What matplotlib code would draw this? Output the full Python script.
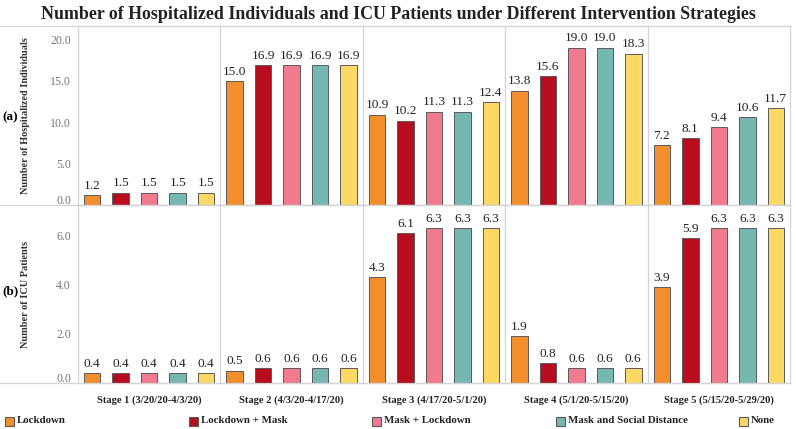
import matplotlib
matplotlib.use("Agg")
import matplotlib.pyplot as plt
from matplotlib.patches import Rectangle
from matplotlib.lines import Line2D
from matplotlib.transforms import ScaledTranslation

plt.rcParams['font.family'] = ['Liberation Serif', 'DejaVu Serif']

stages = ["Stage 1 (3/20/20-4/3/20)", "Stage 2 (4/3/20-4/17/20)", "Stage 3 (4/17/20-5/1/20)",
          "Stage 4 (5/1/20-5/15/20)", "Stage 5 (5/15/20-5/29/20)"]
strategies = ["Lockdown", "Lockdown + Mask", "Mask + Lockdown", "Mask and Social Distance", "None"]
colors = ["#F28E2B", "#B70D1F", "#F17A8E", "#76B7B2", "#FDD865"]

hosp = {
    "Lockdown":                 [1.2, 15.0, 10.9, 13.8, 7.2],
    "Lockdown + Mask":          [1.5, 16.9, 10.2, 15.6, 8.1],
    "Mask + Lockdown":          [1.5, 16.9, 11.3, 19.0, 9.4],
    "Mask and Social Distance": [1.5, 16.9, 11.3, 19.0, 10.6],
    "None":                     [1.5, 16.9, 12.4, 18.3, 11.7],
}
icu = {
    "Lockdown":                 [0.4, 0.5, 4.3, 1.9, 3.9],
    "Lockdown + Mask":          [0.4, 0.6, 6.1, 0.8, 5.9],
    "Mask + Lockdown":          [0.4, 0.6, 6.3, 0.6, 6.3],
    "Mask and Social Distance": [0.4, 0.6, 6.3, 0.6, 6.3],
    "None":                     [0.4, 0.6, 6.3, 0.6, 6.3],
}
hosp_ticks = [0, 5, 10, 15, 20]
icu_ticks = [0, 2, 4, 6]

W, H = 796, 429
fig = plt.figure(figsize=(W / 100, H / 100), dpi=100)

def fx(px):
    return px / W

def fy(py):
    return 1 - py / H

left, right = 78, 790
top_a, mid, bot_b = 26, 205, 383
ax1 = fig.add_axes([fx(left), fy(mid), fx(right - left), (mid - top_a) / H])
ax2 = fig.add_axes([fx(left), fy(bot_b), fx(right - left), (bot_b - mid) / H])

grid_c = "#d4d4d4"
edge_c = "#5a5a5a"
n = len(strategies)

def draw(ax, data, ticks, ymax, label):
    for j, s in enumerate(strategies):
        xs = [i * n + j + 0.5 for i in range(len(stages))]
        vals = data[s]
        ax.bar(xs, vals, width=0.58, color=colors[j], edgecolor=edge_c, linewidth=0.7, zorder=3)
        for x, v in zip(xs, vals):
            ax.annotate(f"{v:.1f}", (x, v), xytext=(0, 2.5), textcoords="offset points",
                        ha="center", va="bottom", fontsize=9.6, color="#222222")
    ax.set_xlim(0, n * len(stages))
    ax.set_ylim(0, ymax)
    ax.set_yticks(ticks)
    ax.set_yticklabels([f"{t:.1f}" for t in ticks])
    ax.tick_params(axis="y", length=0, pad=5, labelsize=8.6, labelcolor="#777777")
    for i in range(1, len(stages)):
        ax.axvline(i * n, color=grid_c, lw=0.9, zorder=1)
    for sp in ax.spines.values():
        sp.set_color(grid_c)
        sp.set_linewidth(0.9)
    ax.set_ylabel(label, fontsize=7.4, fontweight="bold", color="#333333")
    ax.yaxis.set_label_coords((30 - left) / (right - left), 0.5)
    lab0 = ax.get_yticklabels()[0]
    lab0.set_transform(lab0.get_transform() + ScaledTranslation(0, 5 / 100, fig.dpi_scale_trans))

draw(ax1, hosp, hosp_ticks, 21.65, "Number of Hospitalized Individuals")
draw(ax2, icu, icu_ticks, 7.25, "Number of ICU Patients")
ax1.set_xticks([])
ax2.set_xticks([i * n + n / 2 for i in range(len(stages))])
ax2.set_xticklabels(stages, fontsize=7.6, fontweight="bold", color="#222222")
ax2.tick_params(axis="x", length=0, pad=9)

# horizontal table lines extending to the left edge
for py in (top_a, mid, bot_b):
    fig.add_artist(Line2D([0, fx(right)], [fy(py), fy(py)], color=grid_c, lw=0.9))

fig.text(fx(2), fy(117), "(a)", fontsize=9.5, fontweight="bold", ha="left", va="center")
fig.text(fx(2), fy(291), "(b)", fontsize=9.5, fontweight="bold", ha="left", va="center")

fig.text(0.5, fy(14.5), "Number of Hospitalized Individuals and ICU Patients under Different Intervention Strategies",
         fontsize=12.9, fontweight="bold", ha="center", va="center", color="#222222")

# legend
leg_x = [5, 189, 372, 556, 739]
ly = 421
for xpx, s, c in zip(leg_x, strategies, colors):
    fig.add_artist(Rectangle((fx(xpx), fy(ly + 4.5)), fx(9), 9 / H, facecolor=c,
                             edgecolor=edge_c, lw=0.8, transform=fig.transFigure))
    fig.text(fx(xpx + 12), fy(ly - 0.5), s, fontsize=7.8, fontweight="bold", ha="left", va="center", color="#222222")

fig.savefig("out.png", dpi=100)
